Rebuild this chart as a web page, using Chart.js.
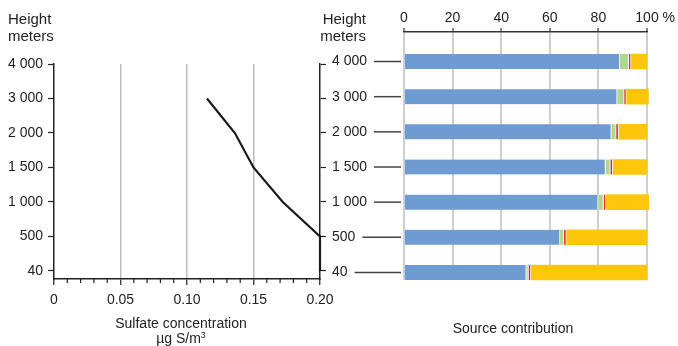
<!DOCTYPE html>
<html>
<head>
<meta charset="utf-8">
<script src="https://cdn.jsdelivr.net/npm/chart.js@4.4.1/dist/chart.umd.min.js"></script>
<style>
    body { margin: 0; background: #fff; }
    #wrap { position: relative; width: 678px; height: 346px; overflow: hidden;
            font-family: "Liberation Sans", Arial, sans-serif; color: #222; }
    canvas { position: absolute; left: 0; top: 0; }
    .lbl { position: absolute; font-size: 15px; line-height: 17px; }
    .ttl { position: absolute; font-size: 14px; line-height: 15px; text-align: center; }
    .ttl sup { font-size: 9px; line-height: 0; vertical-align: 5px; }
</style>
</head>
<body>
<div id="wrap">
    <canvas id="profileChart" width="678" height="346"></canvas>
    <canvas id="sourceChart" width="678" height="346"></canvas>
    <div class="lbl" style="left:8px; top:10px;">Height<br>meters</div>
    <div class="lbl" style="left:296px; width:70px; top:10px; text-align:right;">Height<br>meters</div>
    <div class="ttl" style="left:81px; width:200px; top:316px;">Sulfate concentration<br>µg S/m<sup>3</sup></div>
    <div class="ttl" style="left:413px; width:200px; top:321px;">Source contribution</div>
</div>
<script>
// Height levels, top to bottom
const heights = ['4 000', '3 000', '2 000', '1 500', '1 000', '500', '40'];

// Sulfate concentration profile (no value at 4 000 m)
const sulfate = [null, 0.115, 0.136, 0.150, 0.172, 0.200, 0.200];
const concTicks = [0, 0.05, 0.10, 0.15, 0.20];

// Source contribution, percent
const pctTicks = [0, 20, 40, 60, 80, 100];
const blueShare = [88.8, 87.7, 85.3, 82.9, 79.9, 64.2, 50.3];
const greenShare = [3.7, 2.9, 2.0, 2.0, 2.2, 1.6, 0.9];
const redShare = [0.9, 0.9, 1.0, 1.0, 1.0, 1.0, 1.0];
const yellowShare = [6.6, 9.1, 11.7, 14.1, 17.6, 33.2, 47.8];

const FONT = '"Liberation Sans", Arial, sans-serif';
Chart.defaults.font.family = FONT;
Chart.defaults.font.size = 14;
Chart.defaults.color = '#222';

const levelTicks = scale => { scale.ticks = heights.map((h, i) => ({ value: i })); };

// Minor ticks every 0.01 under the concentration axis
const minorTicks = {
    id: 'minorTicks',
    afterDraw(chart) {
        const sx = chart.scales.x;
        const ctx = chart.ctx;
        const y0 = chart.chartArea.bottom;
        ctx.save();
        ctx.strokeStyle = '#222';
        ctx.lineWidth = 1.2;
        for (let k = 1; k < 20; k++) {
            if (k % 5 === 0) continue;
            const px = sx.getPixelForValue(k / 100);
            ctx.beginPath();
            ctx.moveTo(px, y0);
            ctx.lineTo(px, y0 + 4);
            ctx.stroke();
        }
        ctx.restore();
    }
};

const profilePoints = sulfate
    .map((c, i) => ({ x: c, y: i }))
    .filter(p => p.x !== null);

new Chart(document.getElementById('profileChart'), {
    type: 'line',
    data: {
        datasets: [{
            data: profilePoints,
            borderColor: '#1a1a1a',
            borderWidth: 2.2,
            pointRadius: 0,
            tension: 0,
            clip: false
        }]
    },
    options: {
        responsive: false,
        animation: false,
        layout: { padding: { left: 0, top: 64, right: 348, bottom: 37 } },
        plugins: { legend: { display: false }, tooltip: { enabled: false } },
        scales: {
            x: {
                type: 'linear',
                min: 0,
                max: 0.2,
                afterBuildTicks: scale => { scale.ticks = concTicks.map(v => ({ value: v })); },
                afterFit: scale => { scale.height = 30; },
                ticks: {
                    callback: v => v === 0 ? '0' : v.toFixed(2),
                    padding: 7,
                    maxRotation: 0,
                    autoSkip: false
                },
                grid: {
                    color: c => (c.tick && c.tick.value > 0.001 && c.tick.value < 0.199) ? '#bdbdbd' : 'rgba(0,0,0,0)',
                    lineWidth: 1.5,
                    tickLength: 6,
                    tickColor: '#222',
                    tickWidth: 1.2
                },
                border: { color: '#222', width: 1.5 }
            },
            y: {
                type: 'linear',
                reverse: true,
                min: 0,
                max: 6.232,
                afterBuildTicks: levelTicks,
                afterFit: scale => { scale.width = 54; },
                ticks: { callback: v => heights[v], padding: 5 },
                grid: { drawOnChartArea: false, tickLength: 6, tickColor: '#222', tickWidth: 1.2 },
                border: { color: '#222', width: 1.5 }
            },
            y2: {
                type: 'linear',
                position: 'right',
                reverse: true,
                min: 0,
                max: 6.232,
                afterBuildTicks: levelTicks,
                afterFit: scale => { scale.width = 10; },
                ticks: { callback: () => '' },
                grid: { drawOnChartArea: false, tickLength: 6, tickColor: '#222', tickWidth: 1.2 },
                border: { color: '#222', width: 1.5 }
            }
        }
    },
    plugins: [minorTicks]
});

// Leader lines from level labels to the bars, plus the % sign
const leaders = {
    id: 'leaders',
    afterDraw(chart) {
        const sy = chart.scales.y;
        const sx = chart.scales.x;
        const ctx = chart.ctx;
        ctx.save();
        ctx.font = '14px ' + FONT;
        ctx.strokeStyle = '#444';
        ctx.lineWidth = 1.5;
        heights.forEach((h, i) => {
            const py = sy.getPixelForValue(i);
            const w = ctx.measureText(h).width;
            ctx.beginPath();
            ctx.moveTo(sy.left + w + 7, py);
            ctx.lineTo(chart.chartArea.left - 3, py);
            ctx.stroke();
        });
        const w100 = ctx.measureText('100').width;
        ctx.fillStyle = '#222';
        ctx.textAlign = 'left';
        ctx.textBaseline = 'middle';
        ctx.fillText(' %', sx.getPixelForValue(100) + w100 / 2, sx.bottom - 4 - 1 - 8.4);
        ctx.restore();
    }
};

const shareSeries = [
    { values: blueShare, color: '#6e9bd2', border: 1 },
    { values: greenShare, color: '#b0d68f', border: 1 },
    { values: redShare, color: '#e2262b', border: 1 },
    { values: yellowShare, color: '#ffc60b', border: 0 }
];

new Chart(document.getElementById('sourceChart'), {
    type: 'bar',
    data: {
        datasets: shareSeries.map(s => ({
            data: s.values.map((v, i) => ({ x: v, y: i })),
            backgroundColor: s.color,
            borderColor: '#fff',
            borderWidth: { top: 0, bottom: 0, left: 0, right: s.border },
            borderSkipped: false,
            barThickness: 15,
            clip: false
        }))
    },
    options: {
        indexAxis: 'y',
        responsive: false,
        animation: false,
        layout: { padding: { left: 332, top: 0, right: 31, bottom: 66 } },
        plugins: { legend: { display: false }, tooltip: { enabled: false } },
        scales: {
            x: {
                type: 'linear',
                position: 'top',
                stacked: true,
                min: 0,
                max: 100,
                afterBuildTicks: scale => { scale.ticks = pctTicks.map(v => ({ value: v })); },
                afterFit: scale => { scale.height = 32; },
                ticks: { padding: 1, maxRotation: 0, autoSkip: false },
                grid: { color: '#cfcfcf', lineWidth: 2, tickLength: 4, tickColor: '#333', tickWidth: 1.2 },
                border: { color: '#333', width: 1.5 }
            },
            y: {
                type: 'linear',
                reverse: true,
                stacked: true,
                offset: false,
                min: -0.839,
                max: 6.213,
                afterBuildTicks: levelTicks,
                afterFit: scale => { scale.width = 72; },
                ticks: { callback: v => heights[v], crossAlign: 'far' },
                grid: { display: false },
                border: { display: false }
            }
        }
    },
    plugins: [leaders]
});
</script>
</body>
</html>
